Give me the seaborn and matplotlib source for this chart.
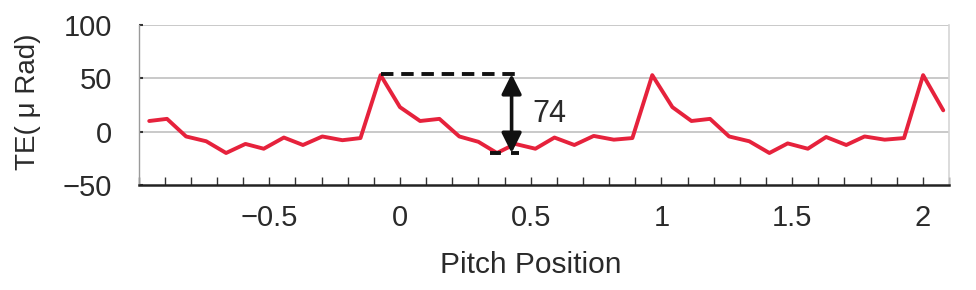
import matplotlib
matplotlib.use("Agg")
import matplotlib.pyplot as plt
from matplotlib.ticker import MultipleLocator, FuncFormatter
import seaborn as sns
import pandas as pd

# ---- data ----
pitch_position = [-0.959, -0.891, -0.818, -0.741, -0.665, -0.591, -0.521, -0.444,
                  -0.371, -0.297, -0.220, -0.151, -0.074, 0.000, 0.077, 0.151,
                  0.227, 0.300, 0.371, 0.441, 0.518, 0.591, 0.667, 0.741,
                  0.818, 0.889, 0.965, 1.042, 1.115, 1.186, 1.259, 1.336,
                  1.413, 1.483, 1.560, 1.630, 1.707, 1.777, 1.854, 1.928,
                  2.001, 2.078]
te_urad = [10, 12, -4.5, -9, -20, -11.5, -16, -5.5, -12.5, -4.5, -8, -6,
           53, 23, 10, 12, -4.5, -9.5, -20, -11.5, -16, -5.5, -12.5, -4, -7.5, -6,
           53, 23, 10, 12, -4.5, -9, -20, -11, -16, -5, -12.5, -4.5, -7.5, -6,
           53, 20]

# annotation values
peak_x, peak_y = -0.074, 54
trough_x, trough_y = 0.371, -20
arrow_x = 0.427
range_label = "74"

x_ticks = [-0.5, 0, 0.5, 1, 1.5, 2]
y_ticks = [-50, 0, 50, 100]

df = pd.DataFrame({"Pitch Position": pitch_position, "TE": te_urad})

sns.set_style("white")
plt.rcParams["font.family"] = ["Liberation Sans", "DejaVu Sans"]

fig = plt.figure(figsize=(9.76, 2.90), dpi=100)
ax = fig.add_axes([138.5 / 976, 1 - 185 / 290, (949 - 138.5) / 976, (185 - 25) / 290])

sns.lineplot(data=df, x="Pitch Position", y="TE", ax=ax, color="#e6223c",
             linewidth=2.8, legend=False)

ax.set_xlim(-1.0, 2.1)
ax.set_ylim(-50, 100)

# grid lines
for yv in [0, 50, 100]:
    ax.axhline(yv, color="#c9c9c9", linewidth=1.4, zorder=0)

# spines
ax.spines["top"].set_visible(False)
ax.spines["left"].set_color("#9a9a9a")
ax.spines["left"].set_linewidth(1.0)
ax.spines["right"].set_color("#d6d6d6")
ax.spines["right"].set_linewidth(1.2)
ax.spines["bottom"].set_color("#222222")
ax.spines["bottom"].set_linewidth(1.8)

ax.set_xticks(x_ticks)
ax.xaxis.set_minor_locator(MultipleLocator(0.1))
ax.set_yticks(y_ticks)
fmt = FuncFormatter(lambda v, p: ("%g" % v).replace("-", "\u2212"))
ax.xaxis.set_major_formatter(fmt)
ax.yaxis.set_major_formatter(fmt)

ax.tick_params(axis="x", which="both", direction="in", length=6, width=1.0,
               color="#333333", pad=14, labelsize=21, labelcolor="#2a2a2a",
               bottom=True, top=False)
ax.tick_params(axis="y", which="major", direction="in", length=3, width=1.5,
               color="#333333", pad=19, labelsize=21, labelcolor="#2a2a2a",
               left=True, right=False)

ax.set_xlabel("Pitch Position", fontsize=21.5, color="#2a2a2a")
ax.xaxis.set_label_coords(0.4845, -0.5)
ax.xaxis.label.set_va("center")
ax.set_ylabel("TE( \u03bc Rad)", fontsize=20, color="#2a2a2a")
ax.yaxis.set_label_coords(-0.136, 0.52)
ax.yaxis.label.set_va("center")

# annotation: dashed reference lines and double arrow
ax.plot([peak_x, arrow_x + 0.03], [peak_y, peak_y], color="#111111",
        linewidth=2.8, linestyle=(0, (3.2, 2.0)), solid_capstyle="butt")
ax.plot([trough_x - 0.025, arrow_x + 0.03], [trough_y, trough_y], color="#111111",
        linewidth=2.8, linestyle=(0, (2.8, 2.6)), solid_capstyle="butt")
ax.annotate("", xy=(arrow_x, peak_y), xytext=(arrow_x, trough_y),
            arrowprops=dict(arrowstyle="<|-|>", color="#111111", lw=2.6,
                            mutation_scale=30, shrinkA=0, shrinkB=0))
ax.text(arrow_x + 0.08, 17, range_label, fontsize=22, color="#2a2a2a",
        ha="left", va="center")

fig.savefig("out.png", dpi=100)
